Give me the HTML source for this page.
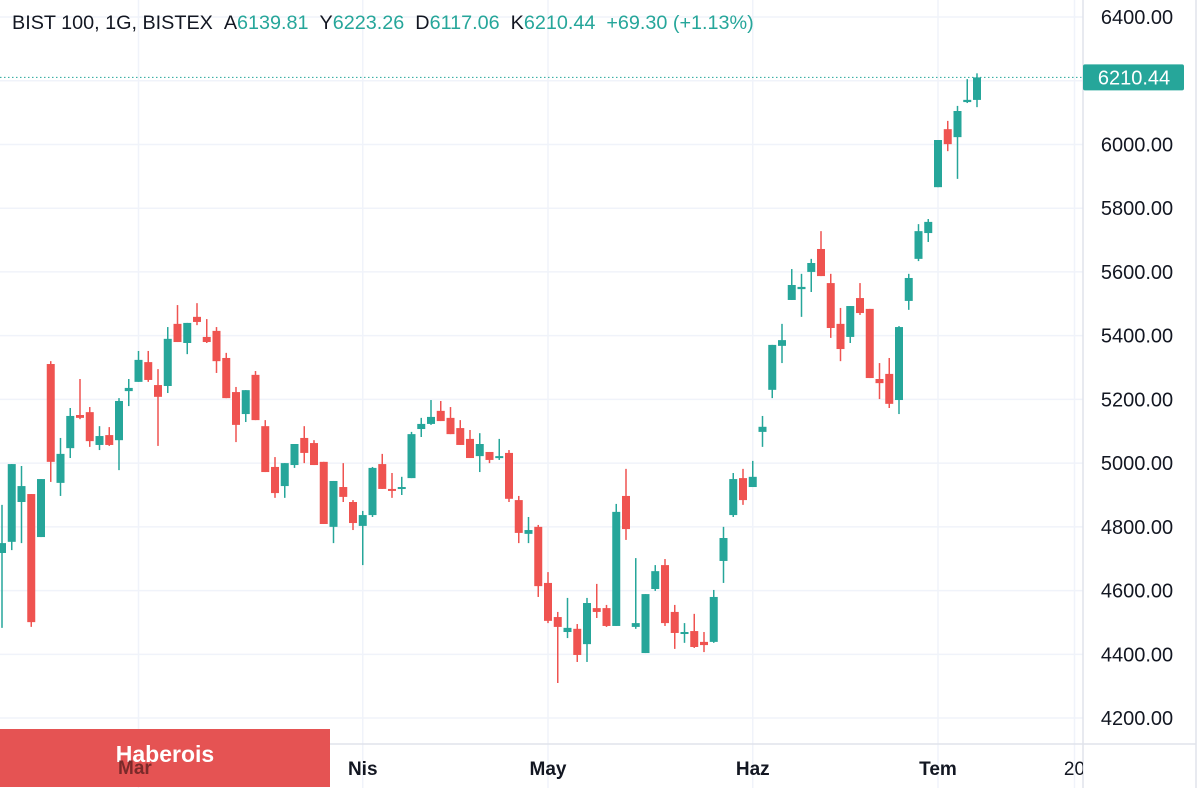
<!DOCTYPE html>
<html><head><meta charset="utf-8">
<style>
html,body{margin:0;padding:0;background:#fff;}
body{width:1200px;height:788px;overflow:hidden;position:relative;font-family:"Liberation Sans",sans-serif;}
#hdr{position:absolute;left:12px;top:12px;font-size:19.8px;color:#131722;white-space:nowrap;}
#hdr .v{color:#26a69a;margin-right:11px;}
#brand{position:absolute;left:0;top:729px;width:330px;height:58px;background:#e55353;color:#fff;font-weight:bold;font-size:23px;text-align:center;line-height:50px;}
#mar{position:absolute;left:118px;top:758px;font-size:19px;font-weight:bold;color:#7a2a2a;}
</style></head>
<body>
<svg id="chart" width="1200" height="788" style="position:absolute;left:0;top:0"></svg>
<div id="hdr">BIST 100, 1G, BISTEX&nbsp;&nbsp;A<span class="v">6139.81</span>Y<span class="v">6223.26</span>D<span class="v">6117.06</span>K<span class="v">6210.44</span><span class="v">+69.30 (+1.13%)</span></div>
<div id="brand">Haberois</div>
<div id="mar">Mar</div>
<script>
const opens=[4718,4753,4878,4903,4768,5311,4938,5047,5151,5160,5057,5088,5072,5226,5255,5317,5245,5242,5437,5377,5459,5396,5415,5330,5223,5154,5277,5116,4988,4928,4994,5079,5063,5004,4800,4925,4878,4803,4837,4997,4919,4919,4953,5107,5123,5164,5142,5110,5076,5022,5035,5016,5032,4884,4778,4800,4624,4517,4470,4480,4432,4545,4545,4489,4897,4486,4404,4605,4680,4533,4467,4473,4439,4439,4693,4837,4953,4925,5098,5230,5368,5512,5546,5600,5672,5565,5437,5396,5518,5484,5264,5280,5198,5509,5641,5722,5866,6048,6023,6133,6139.81];
const closes=[4749,4997,4928,4501,4950,5004,5029,5148,5142,5069,5085,5057,5195,5236,5324,5261,5208,5390,5380,5440,5443,5380,5320,5204,5120,5229,5135,4972,4906,5000,5060,5032,4994,4809,4944,4894,4812,4837,4985,4919,4913,4925,5091,5123,5145,5132,5091,5057,5016,5060,5010,5022,4888,4781,4790,4614,4505,4486,4483,4398,4561,4533,4489,4847,4793,4498,4589,4661,4498,4467,4470,4423,4429,4580,4765,4950,4884,4957,5114,5371,5386,5559,5553,5628,5587,5424,5358,5493,5471,5267,5251,5186,5427,5581,5728,5757,6014,6001,6105,6140,6210.44];
const highs=[4869,4997,4991,4903,4950,5320,5079,5173,5264,5176,5116,5113,5204,5264,5352,5352,5295,5427,5496,5440,5502,5452,5427,5346,5239,5229,5289,5135,5019,5000,5060,5116,5072,5004,4944,5000,4884,4850,4988,5029,4969,4957,5098,5142,5198,5195,5176,5135,5104,5094,5035,5076,5041,4897,4831,4806,4658,4533,4577,4495,4577,4621,4555,4872,4982,4702,4589,4680,4699,4555,4498,4527,4470,4602,4800,4969,4982,5007,5148,5371,5437,5609,5594,5641,5728,5594,5487,5493,5565,5484,5314,5330,5430,5594,5750,5766,6014,6074,6121,6205,6223.26];
const lows=[4483,4727,4749,4486,4768,4941,4897,5016,5138,5051,5041,5054,4978,5179,5255,5255,5054,5220,5380,5342,5433,5377,5283,5204,5066,5129,5135,4972,4891,4891,4985,5000,4994,4809,4749,4878,4790,4680,4831,4919,4891,4900,4953,5082,5120,5132,5091,5057,5016,4972,5000,5010,4878,4749,4749,4580,4498,4310,4451,4376,4376,4514,4486,4489,4759,4480,4404,4599,4489,4417,4436,4420,4407,4436,4624,4831,4869,4925,5051,5204,5314,5512,5459,5537,5587,5393,5320,5377,5465,5267,5201,5173,5154,5481,5634,5694,5866,5979,5892,6130,6117.06];
const yTicks=[4200,4400,4600,4800,5000,5200,5400,5600,5800,6000,6400];
const xLabels=["Mar","Nis","May","Haz","Tem","20"];
const xLabelIdx=[14,37,56,77,96,110];
const lastPrice=6210.44;

const NS="http://www.w3.org/2000/svg";
const svg=document.getElementById('chart');
const PW=1083, PH=744;
function y(v){return 17+(6400-v)*0.31866;}
function x(i){return 2+i*9.75;}
function mk(tag,attrs,parent){const e=document.createElementNS(NS,tag);for(const k in attrs)e.setAttribute(k,attrs[k]);(parent||svg).appendChild(e);return e;}
const TEAL="#26a69a",RED="#ef5350";
const grid=mk('g',{});


for(let v=4200;v<=6400;v+=200){const l=mk('line',{x1:0,x2:PW,y1:y(v),y2:y(v),stroke:'#f0f3fa','stroke-width':1.5},grid);

}
xLabelIdx.forEach(i=>{const l=mk('line',{x1:x(i),x2:x(i),y1:0,y2:788,stroke:'#f0f3fa','stroke-width':1.5},grid);

});
const cg=mk('g',{});


for(let i=0;i<opens.length;i++){
 const o=opens[i],c=closes[i],col=c>=o?TEAL:RED;
 const g=mk('g',{},cg);
 
 
 mk('line',{x1:x(i),x2:x(i),y1:y(highs[i]),y2:y(lows[i]),stroke:col,'stroke-width':1.5},g);
 const t=Math.min(y(o),y(c)),h=Math.max(2,Math.abs(y(o)-y(c)));
 mk('rect',{x:x(i)-4,y:t,width:8,height:h,fill:col},g);
}
const lp=mk('line',{x1:0,x2:PW,y1:y(lastPrice),y2:y(lastPrice),stroke:TEAL,'stroke-width':1,'stroke-dasharray':'1.5 2.5'});


mk('rect',{x:PW,y:0,width:1200-PW,height:788,fill:'#fff'});
mk('rect',{x:0,y:PH,width:PW,height:788-PH,fill:'#fff'});
xLabelIdx.forEach(i=>{mk('line',{x1:x(i),x2:x(i),y1:PH,y2:788,stroke:'#f0f3fa','stroke-width':1.5});});
mk('line',{x1:PW,x2:PW,y1:0,y2:788,stroke:'#e0e3eb','stroke-width':1.5});
mk('line',{x1:0,x2:PW,y1:PH,y2:PH,stroke:'#e0e3eb','stroke-width':1.5});
mk('line',{x1:1196,x2:1196,y1:0,y2:788,stroke:'#e0e3eb','stroke-width':1.5});
mk('line',{x1:PW,x2:1196,y1:PH,y2:PH,stroke:'#e0e3eb','stroke-width':1.5});
yTicks.forEach(v=>{const t=mk('text',{x:1137,y:y(v)+7,'text-anchor':'middle','font-size':20,fill:'#131722','font-family':'Liberation Sans, sans-serif'});t.textContent=v.toFixed(2);

});
const clip=mk('clipPath',{id:'xc'});mk('rect',{x:0,y:PH,width:PW,height:50},clip);
xLabels.forEach((s,k)=>{const t=mk('text',{x:x(xLabelIdx[k]),y:775,'text-anchor':'middle','font-size':19,'font-weight':k<5?'bold':'normal',fill:'#131722','font-family':'Liberation Sans, sans-serif','clip-path':'url(#xc)'});t.textContent=s;

});
const pl=mk('g',{});


mk('rect',{x:1083,y:y(lastPrice)-13,width:101,height:26,rx:2,fill:TEAL},pl);
const pt=mk('text',{x:1134,y:y(lastPrice)+7,'text-anchor':'middle','font-size':20,fill:'#fff','font-family':'Liberation Sans, sans-serif'},pl);pt.textContent=lastPrice.toFixed(2);
</script>
</body></html>
